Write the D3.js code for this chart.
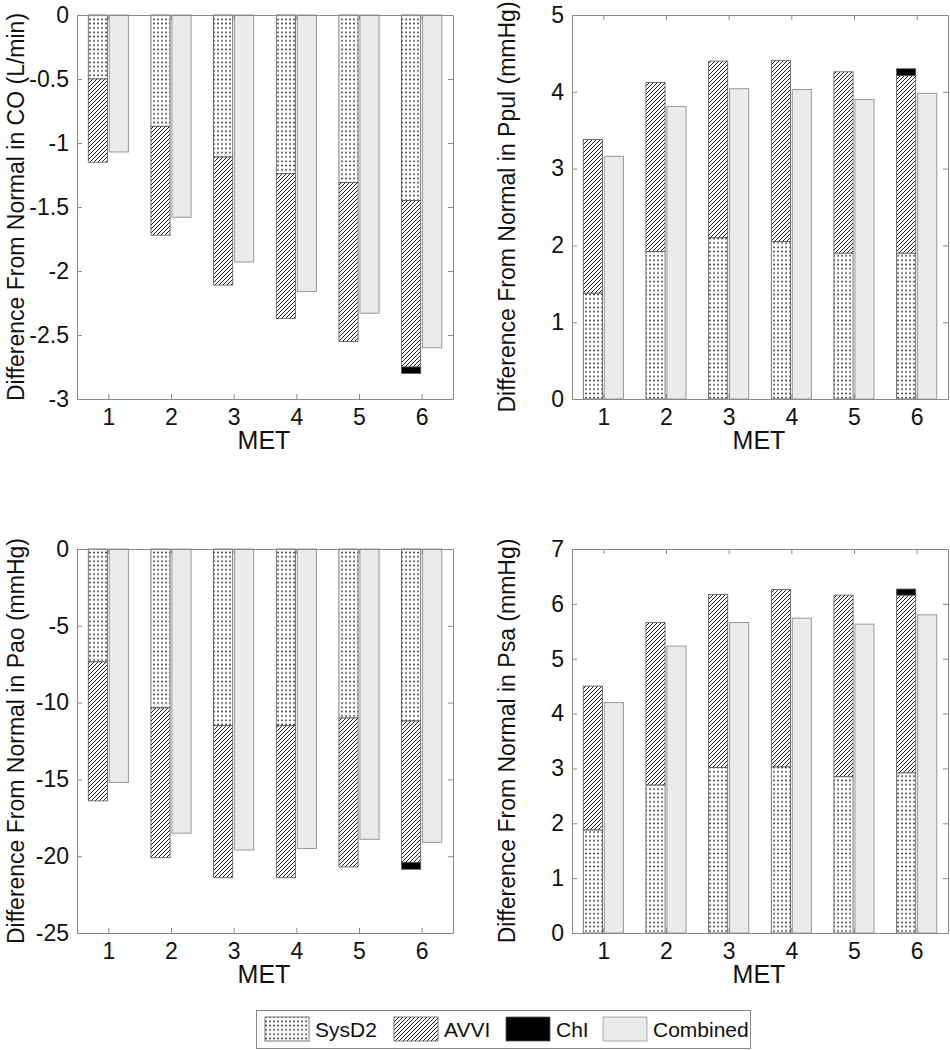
<!DOCTYPE html>
<html><head><meta charset="utf-8">
<script src="https://cdn.jsdelivr.net/npm/d3@7"></script>
<style>
body{margin:0;background:#fff;}
text{font-family:"Liberation Sans",Arial,Helvetica,sans-serif;fill:#111;}
</style></head>
<body>
<svg id="chart" width="950" height="1050"></svg>
<script>
// ---------------- DATA ----------------
const mets = [1, 2, 3, 4, 5, 6];
const seriesNames = ["SysD2", "AVVI", "ChI", "Combined"];

// CO (L/min) – segment contributions
const coSysD2 = [-0.50, -0.87, -1.11, -1.24, -1.31, -1.45];
const coAVVI  = [-0.65, -0.85, -1.00, -1.13, -1.24, -1.30];
const coChI   = [0, 0, 0, 0, 0, -0.05];
const coCombined = [-1.07, -1.58, -1.93, -2.16, -2.33, -2.60];
const coTicks = [0, -0.5, -1, -1.5, -2, -2.5, -3];

// Ppul (mmHg)
const ppulSysD2 = [1.38, 1.92, 2.10, 2.05, 1.90, 1.90];
const ppulAVVI  = [2.00, 2.20, 2.30, 2.36, 2.36, 2.31];
const ppulChI   = [0, 0, 0, 0, 0, 0.09];
const ppulCombined = [3.16, 3.81, 4.04, 4.03, 3.90, 3.98];
const ppulTicks = [0, 1, 2, 3, 4, 5];

// Pao (mmHg)
const paoSysD2 = [-7.35, -10.35, -11.5, -11.5, -11.0, -11.2];
const paoAVVI  = [-9.05, -9.75, -9.9, -9.9, -9.7, -9.2];
const paoChI   = [0, 0, 0, 0, 0, -0.45];
const paoCombined = [-15.2, -18.5, -19.6, -19.5, -18.9, -19.1];
const paoTicks = [0, -5, -10, -15, -20, -25];

// Psa (mmHg)
const psaSysD2 = [1.88, 2.70, 3.02, 3.03, 2.85, 2.92];
const psaAVVI  = [2.62, 2.96, 3.15, 3.23, 3.31, 3.24];
const psaChI   = [0, 0, 0, 0, 0, 0.11];
const psaCombined = [4.20, 5.23, 5.66, 5.74, 5.63, 5.80];
const psaTicks = [0, 1, 2, 3, 4, 5, 6, 7];

// ---------------- DRAWING ----------------
const svg = d3.select("#chart");
const defs = svg.append("defs");

const dots = defs.append("pattern").attr("id", "dots").attr("patternUnits", "userSpaceOnUse")
  .attr("width", 4).attr("height", 4.3);
dots.append("rect").attr("width", 4).attr("height", 4.3).attr("fill", "#fff");
dots.append("rect").attr("x", 1.3).attr("y", 1.4).attr("width", 1.5).attr("height", 1.5).attr("fill", "#111");

const hatch = defs.append("pattern").attr("id", "hatch").attr("patternUnits", "userSpaceOnUse")
  .attr("width", 4).attr("height", 4);
hatch.append("rect").attr("width", 4).attr("height", 4).attr("fill", "#fff");
hatch.append("path").attr("d", "M-1,1 L1,-1 M0,4 L4,0 M3,5 L5,3")
  .attr("stroke", "#222").attr("stroke-width", 1);

const fills = { SysD2: "url(#dots)", AVVI: "url(#hatch)", ChI: "#000", Combined: "#ebebeb" };

const panels = [
  { x0: 77, x1: 453, y0: 15, y1: 399, dom: [-3, 0], ticks: coTicks, label: "Difference From Normal in CO (L/min)", labelX: 16,
    s: coSysD2, a: coAVVI, c: coChI, comb: coCombined },
  { x0: 572, x1: 948, y0: 15, y1: 399, dom: [0, 5], ticks: ppulTicks, label: "Difference From Normal in Ppul (mmHg)", labelX: 507,
    s: ppulSysD2, a: ppulAVVI, c: ppulChI, comb: ppulCombined },
  { x0: 77, x1: 453, y0: 549, y1: 933, dom: [-25, 0], ticks: paoTicks, label: "Difference From Normal in Pao (mmHg)", labelX: 16,
    s: paoSysD2, a: paoAVVI, c: paoChI, comb: paoCombined },
  { x0: 572, x1: 948, y0: 549, y1: 933, dom: [0, 7], ticks: psaTicks, label: "Difference From Normal in Psa (mmHg)", labelX: 507,
    s: psaSysD2, a: psaAVVI, c: psaChI, comb: psaCombined }
];

const fmt = d => String(d);

panels.forEach(p => {
  const x = d3.scaleLinear().domain([0.5, 6.5]).range([p.x0, p.x1]);
  const y = d3.scaleLinear().domain(p.dom).range([p.y1, p.y0]);
  const g = svg.append("g");

  // stacked bars
  mets.forEach((m, i) => {
    const segs = [["SysD2", p.s[i]], ["AVVI", p.a[i]], ["ChI", p.c[i]]];
    let base = 0;
    segs.forEach(([name, v]) => {
      if (v === 0) return;
      const top = base + v;
      g.append("rect")
        .attr("x", x(m - 0.32)).attr("width", x(m - 0.015) - x(m - 0.32))
        .attr("y", y(Math.max(base, top))).attr("height", Math.abs(y(base) - y(top)))
        .attr("fill", fills[name]).attr("stroke", "#555").attr("stroke-width", 0.8);
      base = top;
    });
    const cv = p.comb[i];
    g.append("rect")
      .attr("x", x(m + 0.015)).attr("width", x(m + 0.32) - x(m + 0.015))
      .attr("y", y(Math.max(0, cv))).attr("height", Math.abs(y(0) - y(cv)))
      .attr("fill", fills.Combined).attr("stroke", "#999").attr("stroke-width", 1);
  });

  // axes (MATLAB-style box, inward ticks)
  const axColor = "#8a8a8a";
  const bottom = g.append("g").attr("transform", `translate(0,${p.y1})`)
    .call(d3.axisBottom(x).tickValues(mets).tickSizeInner(-5).tickSizeOuter(0).tickPadding(10).tickFormat(fmt));
  const top = g.append("g").attr("transform", `translate(0,${p.y0})`)
    .call(d3.axisTop(x).tickValues(mets).tickSizeInner(-5).tickSizeOuter(0).tickFormat(""));
  const left = g.append("g").attr("transform", `translate(${p.x0},0)`)
    .call(d3.axisLeft(y).tickValues(p.ticks).tickSizeInner(-5).tickSizeOuter(0).tickPadding(8).tickFormat(fmt));
  const right = g.append("g").attr("transform", `translate(${p.x1},0)`)
    .call(d3.axisRight(y).tickValues(p.ticks).tickSizeInner(-5).tickSizeOuter(0).tickFormat(""));
  [bottom, top, left, right].forEach(a => {
    a.selectAll(".domain").attr("stroke", axColor);
    a.selectAll(".tick line").attr("stroke", axColor);
    a.selectAll(".tick text").style("font-size", "23px").attr("fill", "#111")
      .style("font-family", '"Liberation Sans", Arial, sans-serif');
  });
  bottom.selectAll(".tick text").attr("dy", "0.71em");

  // axis labels
  g.append("text").attr("x", (p.x0 + p.x1) / 2 - 1).attr("y", p.y1 + 50)
    .attr("text-anchor", "middle").style("font-size", "25px").text("MET");
  g.append("text")
    .attr("transform", `translate(${p.labelX},${(p.y0 + p.y1) / 2}) rotate(-90)`)
    .attr("text-anchor", "middle").attr("dy", "0.35em").style("font-size", "23px").text(p.label);
});

// legend
const lg = svg.append("g");
lg.append("rect").attr("x", 256.5).attr("y", 1010.5).attr("width", 494).attr("height", 38)
  .attr("fill", "#fff").attr("stroke", "#8a8a8a");
const legX = [265, 394, 506, 603];
seriesNames.forEach((n, i) => {
  lg.append("rect").attr("x", legX[i]).attr("y", 1017).attr("width", 44).attr("height", 24)
    .attr("fill", fills[n]).attr("stroke", n === "Combined" ? "#999" : "#555").attr("stroke-width", 0.8);
  lg.append("text").attr("x", legX[i] + 50).attr("y", 1037).style("font-size", "21px").text(n);
});
</script>
</body></html>
